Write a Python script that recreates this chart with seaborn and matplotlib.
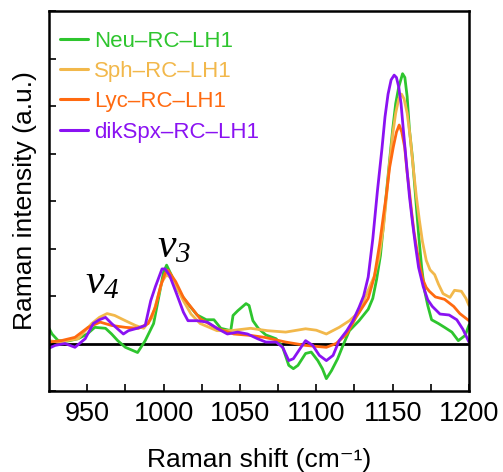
import matplotlib
matplotlib.use("Agg")
import matplotlib.pyplot as plt
import seaborn as sns
import pandas as pd

# ---- data ----
neu_x = [925, 927, 931, 937, 944, 950, 955, 962, 966, 970, 975, 983, 988, 993.5, 997, 1000, 1002,
         1005, 1010, 1015.8, 1022, 1028, 1033, 1037.5, 1044, 1045.5, 1048.6, 1054, 1056, 1058.5,
         1062, 1067, 1073.7, 1078, 1082, 1085, 1088, 1093, 1096.7, 1101, 1104, 1106.6, 1110, 1114,
         1117.5, 1121.7, 1128, 1131, 1134, 1137, 1139.5, 1142, 1144, 1146, 1148, 1150, 1152, 1154,
         1156.5, 1158, 1159.5, 1161, 1163, 1165, 1167, 1169, 1171, 1173, 1175.5, 1180, 1184,
         1188.8, 1193, 1197.5, 1200]
neu_y = [0.32, 0.2, 0.06, 0.05, 0.1, 0.2, 0.34, 0.32, 0.2, 0.06, -0.08, -0.19, 0.06, 0.42, 1.0,
         1.5, 1.65, 1.45, 1.1, 0.84, 0.6, 0.5, 0.5, 0.32, 0.27, 0.59, 0.69, 0.84, 0.8, 0.48,
         0.32, 0.18, 0.1, -0.08, -0.46, -0.53, -0.46, -0.21, -0.18, -0.36, -0.53, -0.74, -0.57,
         -0.32, -0.04, 0.27, 0.48, 0.6, 0.72, 0.95, 1.35, 1.85, 2.5, 3.2, 3.85, 4.5, 5.05, 5.4,
         5.68, 5.6, 5.2, 4.5, 3.9, 3.1, 2.3, 1.6, 1.1, 0.8, 0.5, 0.42, 0.34, 0.24, 0.06, 0.17,
         0.39]

sph_x = [925, 931, 944, 953, 958, 963, 968, 975, 981.6, 987, 992.6, 996, 999, 1002, 1006, 1013,
         1018, 1024, 1035, 1044, 1057, 1068, 1080, 1093, 1100, 1106.6, 1115, 1121.7, 1128, 1134,
         1138, 1141, 1144, 1146, 1148, 1150, 1152, 1154, 1155.8, 1157.5, 1159.5, 1161.5, 1163.5,
         1165.5, 1167.5, 1169.5, 1172, 1174.5, 1177.5, 1180, 1183, 1187.5, 1190.5, 1195, 1198,
         1200]
sph_y = [0.06, 0.03, 0.1, 0.42, 0.55, 0.63, 0.59, 0.48, 0.38, 0.32, 0.55, 0.95, 1.3, 1.45, 1.35,
         0.9, 0.62, 0.42, 0.27, 0.27, 0.32, 0.27, 0.24, 0.31, 0.28, 0.2, 0.34, 0.48, 0.66, 1.12,
         1.42, 1.8, 2.45, 3.1, 3.8, 4.4, 4.85, 5.15, 5.25, 5.15, 4.85, 4.35, 3.7, 3.1, 2.6, 2.15,
         1.75, 1.55, 1.45, 1.25, 1.05, 0.97, 1.12, 1.1, 0.95, 0.8]

lyc_x = [925, 933, 942, 950.6, 958.5, 966, 975, 983.6, 990, 994.7, 998, 1001, 1003, 1008, 1013,
         1024, 1035, 1046, 1057, 1066, 1080, 1093, 1106.6, 1113, 1120, 1126, 1131, 1134, 1138,
         1141.5, 1144, 1146, 1148, 1150.4, 1152.5, 1154.3, 1156, 1157.9, 1159.5, 1161, 1162.5,
         1164, 1166, 1168, 1170, 1172, 1174, 1178, 1184, 1190, 1194, 1200]
lyc_y = [0.03, 0.06, 0.13, 0.34, 0.45, 0.38, 0.34, 0.32, 0.42, 0.77, 1.2, 1.48, 1.54, 1.3, 0.97,
         0.52, 0.32, 0.2, 0.17, 0.13, 0.03, -0.04, -0.08, 0.0, 0.2, 0.55, 0.8, 0.95, 1.4,
         2.1, 2.7, 3.16, 3.7, 4.13, 4.45, 4.6, 4.45, 4.13, 3.6, 3.2, 2.75, 2.35, 1.95, 1.6, 1.33,
         1.18, 1.1, 0.98, 0.93, 0.78, 0.63, 0.48]

dik_x = [925, 929, 935.5, 942, 948.7, 954, 958, 962, 966, 969.5, 973.7, 977, 982.7, 988, 991.6,
         994.7, 999, 1001, 1004, 1008.5, 1013, 1016, 1022, 1028.7, 1035, 1041.8, 1048.5, 1055,
         1061.6, 1067, 1073.7, 1078, 1082, 1085, 1090, 1093, 1097.7, 1102, 1106.6, 1111, 1115,
         1120, 1124, 1128, 1131, 1134, 1137, 1140, 1143, 1145, 1147, 1149, 1151, 1152.5, 1154,
         1155.5, 1157, 1159, 1161, 1163, 1165, 1167, 1170, 1173, 1176, 1181, 1187, 1192, 1196,
         1200]
dik_y = [-0.1, -0.04, 0.0, -0.08, 0.1, 0.42, 0.5, 0.55, 0.42, 0.32, 0.2, 0.27, 0.32, 0.38, 0.9,
         1.2, 1.57, 1.57, 1.43, 1.05, 0.66, 0.48, 0.48, 0.45, 0.32, 0.2, 0.24, 0.2, 0.1, 0.03,
         0.03, -0.08, -0.36, -0.32, -0.08, 0.06, -0.04, -0.25, -0.36, -0.25, 0.06, 0.27, 0.48,
         0.76, 1.0, 1.4, 2.2, 3.2, 4.1, 4.77, 5.25, 5.55, 5.65, 5.6, 5.4, 5.05, 4.5, 3.8, 3.1,
         2.55, 2.05, 1.6, 1.2, 0.92, 0.78, 0.62, 0.6, 0.5, 0.3, 0.03]

series_labels = ["Neu\u2013RC\u2013LH1", "Sph\u2013RC\u2013LH1", "Lyc\u2013RC\u2013LH1", "dikSpx\u2013RC\u2013LH1"]
series_colors = ["#2ec52e", "#f2b84b", "#ff6a10", "#8a12f2"]
xticks = [950, 1000, 1050, 1100, 1150, 1200]
minor_xticks = [975, 1025, 1075, 1125, 1175]
band_labels = [r"$\nu_{4}$", r"$\nu_{3}$"]

# ---- build long table ----
frames = []
for lab, xs, ys in zip(series_labels, [neu_x, sph_x, lyc_x, dik_x], [neu_y, sph_y, lyc_y, dik_y]):
    frames.append(pd.DataFrame({"shift": xs, "intensity": ys, "sample": lab}))
df = pd.concat(frames, ignore_index=True)

sns.set_style("ticks")
plt.rcParams["font.family"] = ["Liberation Sans", "DejaVu Sans"]
plt.rcParams["mathtext.fontset"] = "custom"
plt.rcParams["mathtext.rm"] = "Liberation Serif:italic"
plt.rcParams["mathtext.it"] = "Liberation Serif:italic"
plt.rcParams["mathtext.default"] = "it"
for key in ["text.color", "axes.labelcolor", "xtick.color", "ytick.color", "axes.edgecolor"]:
    plt.rcParams[key] = "black"

fig = plt.figure(figsize=(5.03, 4.72), dpi=100)
ax = fig.add_axes([49 / 503, 1 - 391 / 472, 420 / 503, 380 / 472])

sns.lineplot(data=df, x="shift", y="intensity", hue="sample", hue_order=series_labels,
             palette=dict(zip(series_labels, series_colors)), sort=False,
             estimator=None, linewidth=2.0, ax=ax, legend=True)

ax.axhline(0, color="black", linewidth=2.0, zorder=1)

ax.set_xlim(925, 1200)
ax.set_ylim(-1, 7)
ax.set_xticks(xticks)
ax.set_xticks(minor_xticks, minor=True)
ax.set_yticks(range(-1, 8))
ax.set_yticklabels([])
ax.tick_params(axis="both", which="both", direction="in", length=5, width=1.2,
               labelsize=19.5, colors="black")
ax.tick_params(axis="x", pad=7)
for s in ax.spines.values():
    s.set_linewidth(1.8)
    s.set_color("black")

ax.set_xlabel("Raman shift (cm\u207B\u00B9)", fontsize=19, labelpad=15, color="black")
ax.set_ylabel("Raman intensity (a.u.)", fontsize=19, labelpad=5, color="black")

leg = ax.legend(loc="upper left", frameon=False, fontsize=16, handlelength=1.25,
                handletextpad=0.3, labelspacing=0.42, borderaxespad=0.0,
                bbox_to_anchor=(0.005, 0.972))
for line in leg.get_lines():
    line.set_linewidth(2.2)
for txt, c in zip(leg.get_texts(), series_colors):
    txt.set_color(c)

ax.text(948.3, 1.05, band_labels[0], fontsize=30, ha="left", va="baseline", color="black")
ax.text(995.6, 1.81, band_labels[1], fontsize=30, ha="left", va="baseline", color="black")

fig.savefig("out.png", dpi=100)
